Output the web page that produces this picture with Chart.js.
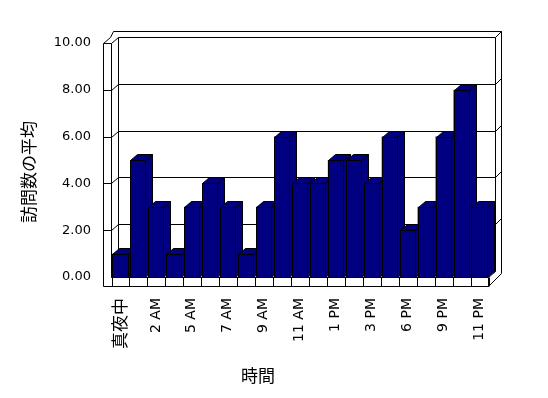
<!DOCTYPE html>
<html>
<head>
<meta charset="utf-8">
<script src="https://cdn.jsdelivr.net/npm/chart.js@4/dist/chart.umd.min.js"></script>
<style>
  html, body { margin: 0; padding: 0; background: #fff; }
  #wrap { width: 548px; height: 398px; }
</style>
</head>
<body>
<div id="wrap"><canvas id="c" width="548" height="398"></canvas></div>
<script>
// hours shown on the category axis (every other label is drawn)
const hours = ['真夜中','1 AM','2 AM','4 AM','5 AM','6 AM','7 AM','8 AM','9 AM','10 AM','11 AM',
               '12 PM','1 PM','2 PM','3 PM','4 PM','6 PM','8 PM','9 PM','10 PM','11 PM'];
// average number of visits per hour
const visits = [1, 5, 3, 1, 3, 4, 3, 1, 3, 6, 4, 4, 5, 5, 4, 6, 2, 3, 6, 8, 3];
const yTicks = [0, 2, 4, 6, 8, 10];
const yTitle = '訪問数の平均';
const xTitle = '時間';

const NAVY = '#000080';
const DX = 7, DY = 6;   // depth of the fake 3d

function poly(ctx, pts, fill) {
  ctx.beginPath();
  pts.forEach(([px, py], i) => i ? ctx.lineTo(px, py) : ctx.moveTo(px, py));
  if (fill) { ctx.closePath(); ctx.fillStyle = fill; ctx.fill(); }
  ctx.stroke();
}

// walls, floor and gridlines drawn from the scales
const frame3d = {
  id: 'frame3d',
  beforeDatasetsDraw(chart) {
    const {ctx, chartArea: a, scales: {x, y}} = chart;
    const L = Math.round(a.left) + 0.5, R = Math.round(a.right) + 0.5;
    const B = Math.round(y.getPixelForValue(yTicks[0])) + 0.5;
    const T = Math.round(y.getPixelForValue(yTicks[yTicks.length - 1])) + 0.5;
    ctx.save();
    ctx.strokeStyle = '#000'; ctx.lineWidth = 1;
    // outer edge of the walls
    poly(ctx, [[L-8, T], [L-1, T-DY], [L+2, T-12], [R+13, T-12], [R+13, B-4], [R, B+9]]);
    // back wall inner face
    poly(ctx, [[L+DX, B-DY], [L+DX, T-DY], [R+DX, T-DY], [R+DX, B-DY]]);
    poly(ctx, [[R+DX, T-DY], [R+13, T-12]]);
    poly(ctx, [[L, T], [L+DX, T-DY]]);
    // left wall front face
    poly(ctx, [[L, B], [L, T], [L-8, T], [L-8, B+9], [R, B+9], [R, B], [L, B]]);
    poly(ctx, [[L, B], [L+DX, B-DY], [R+DX, B-DY], [R, B]]);
    // gridlines
    yTicks.slice(1, -1).forEach(v => {
      const yy = Math.round(y.getPixelForValue(v)) + 0.5;
      poly(ctx, [[L-8, yy], [L, yy], [L+DX, yy-DY], [R+DX, yy-DY], [R+13, yy-12]]);
    });
    // dividers on the floor front
    const n = hours.length;
    for (let i = 0; i <= n; i++) {
      const xb = Math.round(L + i * (R - L) / n) + 0.5;
      poly(ctx, [[xb, B], [xb, B+9]]);
    }
    ctx.restore();
  },
  afterDatasetsDraw(chart) {
    const {ctx} = chart;
    const meta = chart.getDatasetMeta(0);
    ctx.save();
    ctx.strokeStyle = '#000'; ctx.lineWidth = 1;
    meta.data.forEach(bar => {
      const p = bar.getProps(['x', 'y', 'base', 'width'], true);
      const l = Math.round(p.x - p.width / 2) + 0.5, r = Math.round(p.x + p.width / 2) + 0.5;
      const t = Math.round(p.y) + 0.5, b = Math.round(p.base) + 0.5;
      poly(ctx, [[r, t], [r+DX, t-DY], [r+DX, b-DY], [r, b]], NAVY);
      poly(ctx, [[l, t], [l+DX, t-DY], [r+DX, t-DY], [r, t]], NAVY);
      poly(ctx, [[l, t], [r, t], [r, b], [l, b]], NAVY);
    });
    ctx.restore();
  },
  afterDraw(chart) {
    const {ctx} = chart;
    ctx.save();
    ctx.fillStyle = '#000';
    ctx.font = '17px "Noto Sans CJK JP"';
    ctx.textAlign = 'center'; ctx.textBaseline = 'middle';
    ctx.fillText(xTitle, 258, 376);
    ctx.translate(29, 172);
    ctx.rotate(-Math.PI / 2);
    ctx.fillText(yTitle, 0, 0);
    ctx.restore();
  }
};

new Chart(document.getElementById('c'), {
  type: 'bar',
  data: {
    labels: hours,
    datasets: [{
      data: visits,
      backgroundColor: NAVY,
      borderWidth: 0,
      barPercentage: 0.84,
      categoryPercentage: 1
    }]
  },
  options: {
    responsive: false,
    animation: false,
    events: [],
    layout: { padding: { top: 43, right: 60, left: 0, bottom: 0 } },
    plugins: { legend: { display: false }, tooltip: { enabled: false } },
    scales: {
      x: {
        grid: { display: false, drawTicks: false },
        border: { display: false },
        afterFit(s) { s.height = 121; },
        ticks: {
          autoSkip: false,
          minRotation: 90, maxRotation: 90,
          padding: 21,
          color: '#000',
          font: ctx => ctx.index === 0
            ? { family: '"Noto Sans CJK JP"', size: 17 }
            : { family: '"DejaVu Sans"', size: 14 },
          callback: (v, i) => i % 2 === 0 ? hours[i] : ''
        }
      },
      y: {
        min: 0, max: 10,
        grid: { display: false, drawTicks: false },
        border: { display: false },
        afterFit(s) { s.width = 111; },
        ticks: {
          stepSize: 2,
          padding: 20,
          color: '#000',
          font: { family: '"DejaVu Sans"', size: 13 },
          callback: v => v.toFixed(2)
        }
      }
    }
  },
  plugins: [frame3d]
});
</script>
</body>
</html>
